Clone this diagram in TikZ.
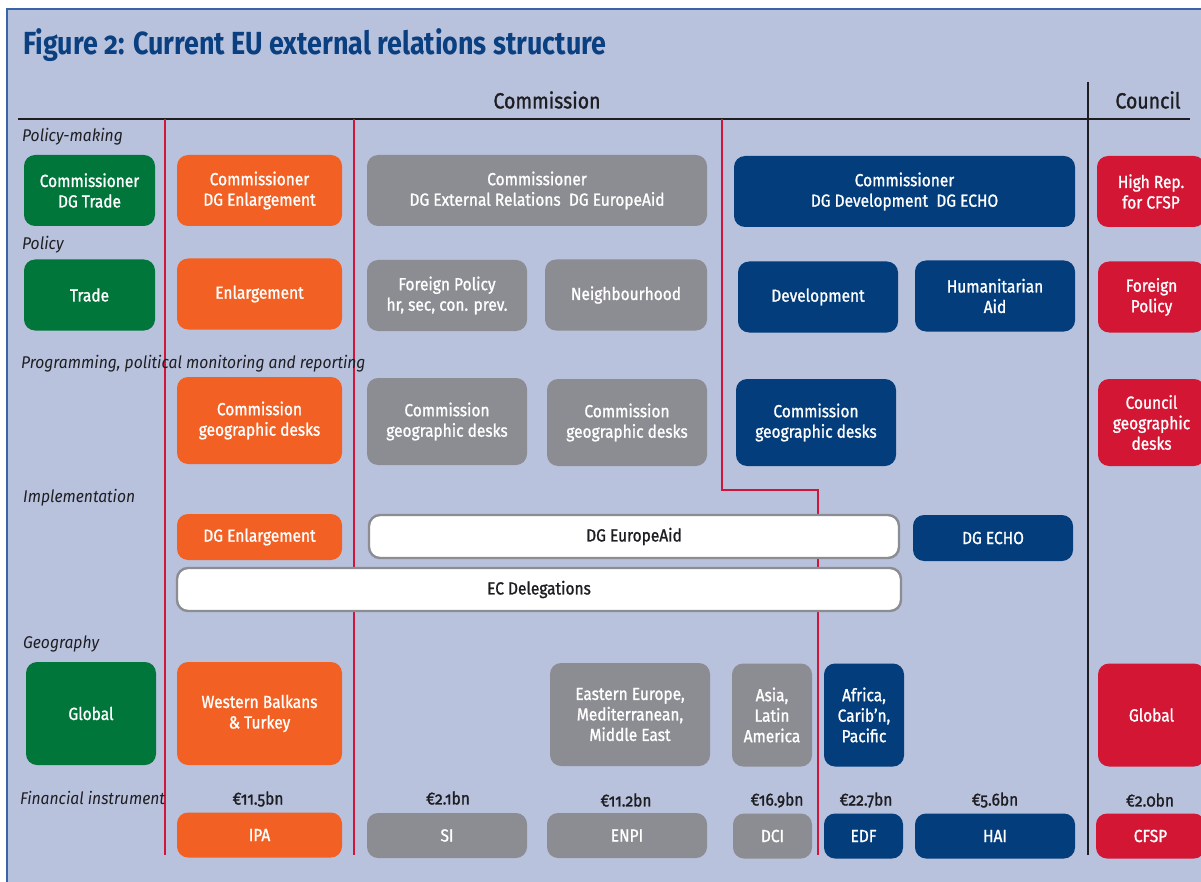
\documentclass[tikz,border=0pt]{standalone}
\usepackage{fontspec}
\setmainfont{Fira Sans}[FakeStretch=0.86, Numbers=OldStyle]
\newfontfamily\titlefont{Fira Sans}[FakeStretch=0.84, Numbers=OldStyle]
\newfontfamily\boxfont{Fira Sans}[FakeStretch=0.885, FakeBold=1.2, Numbers=OldStyle]
\newfontfamily\labelfont{Fira Sans}[FakeStretch=0.92, Numbers=OldStyle]
\usetikzlibrary{positioning}

\definecolor{bgpanel}{HTML}{B9C2DD}
\definecolor{frameblue}{HTML}{3A64A8}
\definecolor{titleblue}{HTML}{0A3F80}
\definecolor{tradegreen}{HTML}{00763A}
\definecolor{enlorange}{HTML}{F26123}
\definecolor{relgray}{HTML}{8C8D92}
\definecolor{devblue}{HTML}{033D7C}
\definecolor{cfspred}{HTML}{D31634}
\definecolor{splitred}{HTML}{D0143A}
\definecolor{inkdark}{HTML}{1E1E22}

\tikzset{
  box/.style={rounded corners=11pt, inner sep=0pt, align=center, text=white,
    font=\boxfont\fontsize{17.5}{20.5}\selectfont},
  trade/.style={box, fill=tradegreen},
  enl/.style={box, fill=enlorange},
  rel/.style={box, fill=relgray},
  dev/.style={box, fill=devblue},
  cfsp/.style={box, fill=cfspred},
  wide/.style={box, fill=white, draw=relgray, line width=2.4pt, text=inkdark},
  rowlabel/.style={anchor=west, inner sep=0pt, text=inkdark,
    font=\labelfont\fontsize{17}{19}\selectfont\itshape},
  amount/.style={inner sep=0pt, text=inkdark, font=\boxfont\fontsize{17.5}{19}\selectfont},
  head/.style={inner sep=0pt, text=inkdark, font=\boxfont\fontsize{22}{24}\selectfont},
}

\begin{document}
\begin{tikzpicture}[x=1pt,y=-1pt]
  \useasboundingbox (0,0) rectangle (1201,882);
  \fill[white] (0,0) rectangle (1201,882);
  \draw[fill=bgpanel, draw=frameblue, line width=1.5pt] (7,9) rectangle (1210,890);

  % title and headings
  \node[anchor=base west, inner sep=0pt, text=titleblue,
    font=\titlefont\fontsize{32}{35}\selectfont\bfseries]
    (title) at (23,55) {Figure 2: Current EU external relations structure};
  \node[head] (commission) at (547,100) {Commission};
  \node[head] (council) at (1148,100) {Council};
  \draw[inkdark, line width=1.6pt] (18,119) -- (1190,119);
  \draw[inkdark, line width=1.6pt] (1088,82) -- (1088,855);

  % red dividers
  \draw[splitred, line width=1.4pt] (165,119) -- (165,855);
  \draw[splitred, line width=1.4pt] (354,119) -- (354,855);
  \draw[splitred, line width=1.4pt] (722,119) -- (722,490) -- (818,490) -- (818,855);

  % row labels
  \node[rowlabel] (lpm) at (22,137) {Policy-making};
  \node[rowlabel] (lpol) at (22,245) {Policy};
  \node[rowlabel] (lprog) at (21,364) {Programming, political monitoring and reporting};
  \node[rowlabel] (limp) at (23,498) {Implementation};
  \node[rowlabel] (lgeo) at (23,644) {Geography};
  \node[rowlabel] (lfin) at (20,798) {Financial instrument};

  % policy-making
  \node[trade, minimum width=131pt, minimum height=71pt] (trade1) at (89.5,190.5) {Commissioner\\DG Trade};
  \node[enl, minimum width=165pt, minimum height=71pt] (enl1) at (259.5,190.5) {Commissioner\\DG Enlargement};
  \node[rel, minimum width=340pt, minimum height=71pt] (rel1) at (537,190.5) {Commissioner\\DG External Relations\ \ DG EuropeAid};
  \node[dev, minimum width=341pt, minimum height=71pt] (dev1) at (904.5,191.5) {Commissioner\\DG Development\ \ DG ECHO};
  \node[cfsp, minimum width=108pt, minimum height=71pt] (cfsp1) at (1151,191.5) {High Rep.\\for CFSP};

  % policy
  \node[trade, minimum width=131pt, minimum height=71pt] (trade2) at (89.5,295) {Trade};
  \node[enl, minimum width=165pt, minimum height=71pt] (enl2) at (259.5,294) {Enlargement};
  \node[rel, minimum width=160pt, minimum height=71pt] (rel2a) at (447,295.5) {Foreign Policy\\hr, sec, con. prev.};
  \node[rel, minimum width=162pt, minimum height=71pt] (rel2b) at (626,295) {Neighbourhood};
  \node[dev, minimum width=160pt, minimum height=71pt] (dev2a) at (818,297) {Development};
  \node[dev, minimum width=160pt, minimum height=71pt] (dev2b) at (995,296) {Humanitarian\\Aid};
  \node[cfsp, minimum width=107pt, minimum height=71pt] (cfsp2) at (1151.5,297) {Foreign\\Policy};

  % programming
  \node[enl, minimum width=165pt, minimum height=87pt] (enl3) at (259.5,420.5) {Commission\\geographic desks};
  \node[rel, minimum width=160pt, minimum height=87pt] (rel3a) at (447,421.5) {Commission\\geographic desks};
  \node[rel, minimum width=160pt, minimum height=87pt] (rel3b) at (627,422.5) {Commission\\geographic desks};
  \node[dev, minimum width=160pt, minimum height=87pt] (dev3) at (816,422.5) {Commission\\geographic desks};
  \node[cfsp, minimum width=107pt, minimum height=87pt] (cfsp3) at (1151.5,422.5) {Council\\geographic\\desks};

  % implementation
  \node[enl, minimum width=165pt, minimum height=46pt] (enl4) at (259.5,537) {DG Enlargement};
  \node[wide, minimum width=530pt, minimum height=43pt] (aid4) at (634,536.5) {DG EuropeAid};
  \node[dev, minimum width=160pt, minimum height=46pt] (dev4) at (993,538) {DG ECHO};
  \node[wide, minimum width=724pt, minimum height=43pt] (del4) at (539,589.5) {EC Delegations};

  % geography
  \node[trade, minimum width=130pt, minimum height=103pt] (trade5) at (91,713.5) {Global};
  \node[enl, minimum width=165pt, minimum height=103pt] (enl5) at (259.5,713.5) {Western Balkans\\\& Turkey};
  \node[rel, minimum width=160pt, minimum height=103pt] (rel5a) at (630,714.5) {Eastern Europe,\\Mediterranean,\\Middle East};
  \node[rel, minimum width=80pt, minimum height=103pt] (rel5b) at (772,715) {Asia,\\Latin\\America};
  \node[dev, minimum width=80pt, minimum height=103pt] (dev5) at (864,715) {Africa,\\Carib’n,\\Pacific};
  \node[cfsp, minimum width=107pt, minimum height=103pt] (cfsp5) at (1151.5,715) {Global};

  % financial instruments
  \node[enl, minimum width=165pt, minimum height=45pt] (ipa) at (259.5,835) {IPA};
  \node[rel, minimum width=160pt, minimum height=45pt] (si) at (447,835.5) {SI};
  \node[rel, minimum width=160pt, minimum height=45pt] (enpi) at (627,835.5) {ENPI};
  \node[rel, minimum width=79pt, minimum height=45pt] (dci) at (772.5,836) {DCI};
  \node[dev, minimum width=79pt, minimum height=45pt] (edf) at (863.5,836) {EDF};
  \node[dev, minimum width=160pt, minimum height=45pt] (hai) at (995,836) {HAI};
  \node[cfsp, minimum width=109pt, minimum height=45pt] (cfsp6) at (1150.5,836) {CFSP};

  \node[amount] (ipaamt) at (258,799) {€11.5bn};
  \node[amount] (siamt) at (448,798) {€2.1bn};
  \node[amount] (enpiamt) at (626,800) {€11.2bn};
  \node[amount] (dciamt) at (777,800) {€16.9bn};
  \node[amount] (edfamt) at (866,800) {€22.7bn};
  \node[amount] (haiamt) at (995,800) {€5.6bn};
  \node[amount] (cfspamt) at (1150,800) {€2.0bn};
\end{tikzpicture}
\end{document}
